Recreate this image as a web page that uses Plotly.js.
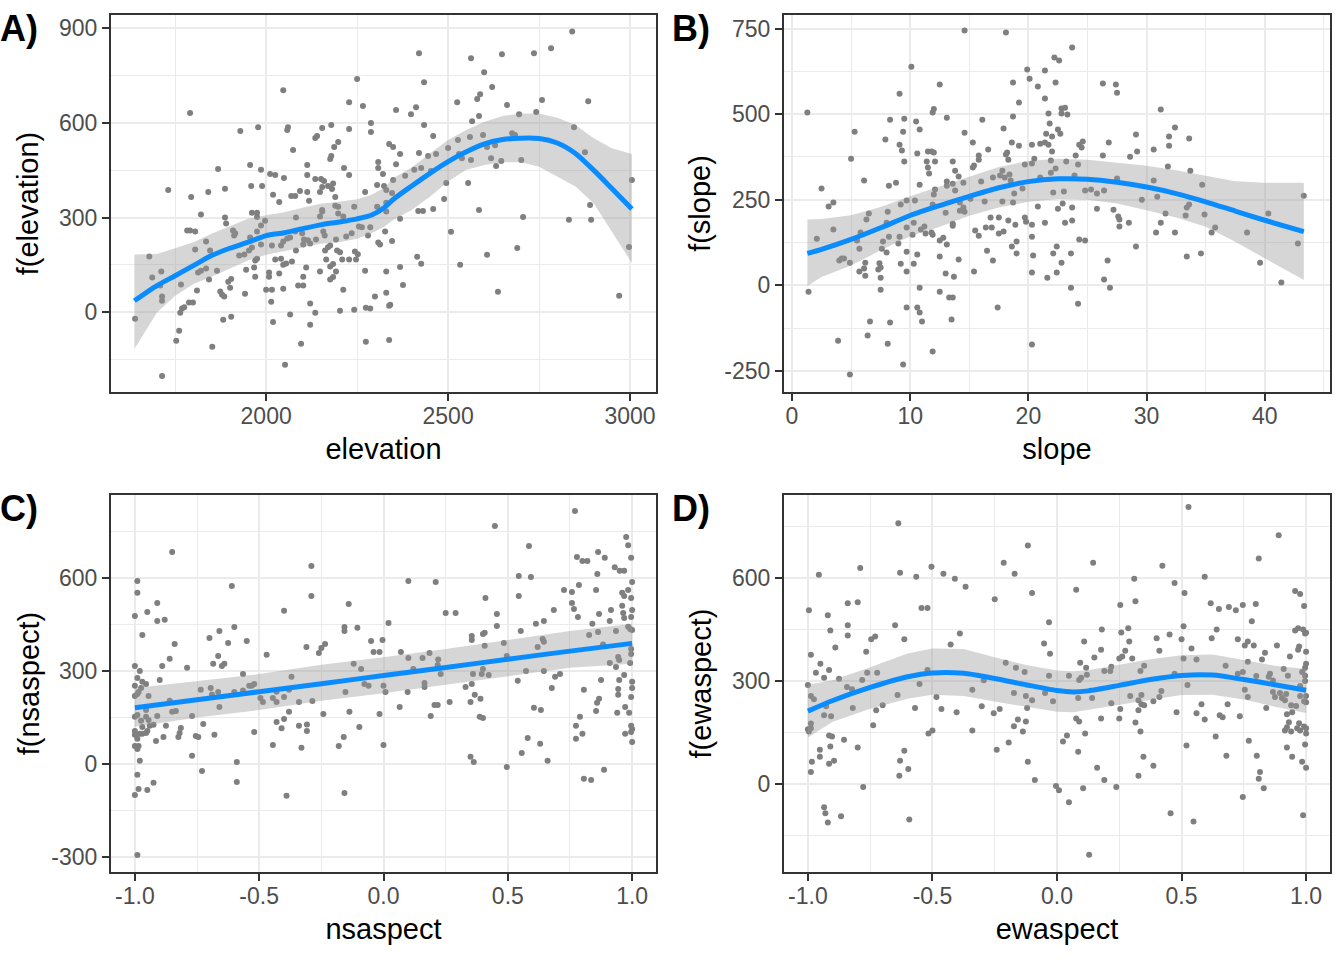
<!DOCTYPE html>
<html><head><meta charset="utf-8">
<script src="https://cdn.plot.ly/plotly-3.0.1.min.js"></script>
<style>html,body{margin:0;padding:0;background:#fff}#p{width:1344px;height:960px}</style>
</head><body><div id="p"></div>
<script>
const elevationPoints=[[1731,387],[1791,631],[1794,365],[1841,381],[1868,454],[1887,391],[1929,574],[1956,466],[1959,400],[1978,586],[1986,451],[1989,400],[2011,438],[2019,372],[2025,435],[2036,349],[2047,703],[2049,425],[2058,577],[2060,586],[2069,368],[2080,368],[2074,514],[2093,384],[2113,466],[2113,435],[2113,381],[2118,353],[2135,552],[2140,558],[2135,422],[2148,381],[2151,422],[2154,583],[2154,397],[2159,416],[2170,400],[2179,593],[2176,485],[2179,495],[2181,390],[2184,408],[2187,523],[2190,365],[2198,539],[2214,457],[2228,665],[2228,580],[2228,435],[2250,738],[2266,653],[2272,381],[2288,599],[2288,571],[2305,403],[2308,476],[2308,457],[2321,438],[2324,400],[2330,387],[2338,533],[2190,337],[2198,334],[2242,334],[2305,334],[2154,324],[2330,347],
[1640,-20],[1679,177],[1687,110],[1712,129],[1709,85],[1714,50],[1714,37],[1714,-201],[1753,-90],[1761,-58],[1764,-1],[1769,12],[1775,16],[1766,88],[1783,259],[1791,259],[1805,256],[1805,199],[1788,31],[1799,31],[1810,69],[1813,126],[1821,132],[1835,139],[1821,310],[1835,224],[1846,196],[1843,104],[1852,-109],[1865,132],[1874,66],[1879,56],[1885,50],[1882,-23],[1887,300],[1890,281],[1896,97],[1904,106],[1901,78],[1904,-14],[1909,259],[1912,243],[1915,250],[1926,180],[1940,183],[1942,59],[1945,135],[1956,237],[1953,196],[1961,205],[1961,315],[1975,315],[1975,302],[1975,256],[1967,142],[1970,113],[1970,164],[1975,170],[1986,275],[1986,215],[1997,290],[2000,72],[2008,126],[2008,113],[2016,212],[2016,72],[2014,34],[2019,-30],[2025,167],[2036,123],[2041,170],[2041,212],[2047,224],[2047,151],[2047,75],[2052,-166],[2055,155],[2058,234],[2066,-7],[2066,237],[2071,161],[2080,256],[2082,196],[2082,300],[2088,85],[2096,-99],[2102,85],[2102,113],[2099,250],[2102,215],[2110,142],[2104,231],[2115,228],[2121,28],[2121,-39],[2121,218],[2135,-1],[2137,231],[2148,129],[2148,303],[2154,319],[2157,256],[2161,243],[2165,167],[2162,196],[2170,206],[2176,212],[2176,104],[2184,112],[2176,145],[2184,153],[2192,231],[2192,129],[2195,196],[2203,190],[2198,313],[2212,72],[2209,167],[2203,5],[2212,303],[2220,240],[2228,167],[2235,250],[2242,8],[2244,193],[2247,167],[2252,184],[2255,272],[2263,269],[2274,-93],[2272,132],[2274,15],[2286,12],[2280,243],[2286,269],[2299,50],[2308,221],[2313,215],[2327,256],[2330,129],[2330,62],[2338,21],[2338,-87],[2330,319],
[2420,820],[2434,728],[2357,640],[2412,649],[2398,627],[2434,593],[2459,558],[2349,523],[2368,501],[2357,469],[2420,504],[2445,495],[2467,501],[2500,520],[2527,545],[2560,555],[2596,561],[2566,605],[2585,621],[2525,665],[2580,675],[2588,690],[2621,713],[2599,760],[2563,804],[2648,817],[2736,820],[2783,836],[2841,889],[2758,672],[2885,668],[2662,656],[2695,627],[2742,634],[2846,586],[2676,567],[2684,561],[2629,529],[2607,523],[2876,507],[2618,488],[2646,479],[2701,482],[2632,463],[2530,501],[2538,488],[2563,482],[2349,419],[2382,432],[2407,451],[2426,457],[2453,447],[2495,409],[2555,409],[2346,378],[2489,359],[2459,327],[2418,321],[2431,321],[2368,296],[2585,324],[2706,302],[2832,293],[2893,293],[2890,340],[3005,419],[2997,207],[2508,255],[2346,226],[2690,204],[2607,182],[2415,176],[2426,154],[2533,151],[2368,144],[2376,87],[2637,65],[2341,24],[2970,53]];
const elevationGrid=[1638,1700,1750,1800,1850,1900,1950,2000,2050,2100,2150,2200,2250,2290,2325,2350,2400,2450,2500,2550,2600,2650,2700,2750,2800,2850,2900,2950,3005];
const elevationFit=[37,85,116,148,180,203,222,243,252,265,277,286,296,308,332,358,400,440,477,508,533,547,551,550,536,503,450,392,327];
const elevationUpper=[183,185,203,222,249,272,296,307,317,331,344,350,358,372,395,425,458,503,545,577,603,621,629,629,616,593,551,519,501];
const elevationLower=[-116,0,53,90,113,138,164,182,194,206,217,222,233,250,272,293,324,366,414,451,466,475,475,461,429,398,345,255,156];

const slopePoints=[[14.6,745],[10.1,639],[12.5,587],[9.1,560],[1.3,505],[12.0,515],[11.9,505],[13.1,490],[8.3,484],[9.5,487],[10.5,479],[10.8,455],[5.3,449],[9.4,449],[14.6,446],[7.9,426],[9.1,411],[9.3,394],[10.6,385],[11.5,391],[11.8,391],[12.0,388],[5.0,370],[9.5,362],[11.4,362],[12.1,362],[13.6,362],[11.5,344],[13.8,335],[11.6,327],[14.1,318],[6.1,306],[13.1,303],[13.6,297],[13.1,291],[14.5,300],[8.8,300],[8.2,291],[10.8,294],[2.5,283],[12.1,280],[13.8,277],[12.0,265],[3.5,242],[3.1,230],[9.2,236],[9.7,248],[10.4,248],[11.9,236],[14.2,242],[14.5,227],[14.2,218],[14.6,215],[8.1,215],[6.5,210],[13.0,212],[6.3,192],[8.0,183],[10.3,183],[13.6,180],[13.6,174],[9.7,169],[11.2,172],[10.9,163],[3.5,163],[2.1,136],[5.8,154],[8.2,142],[9.1,142],[10.2,148],[11.3,151],[11.8,154],[11.9,148],[12.8,139],[12.5,131],[5.5,131],[7.7,128],[9.0,122],[13.1,119],[5.7,107],[7.6,107],[8.0,96],[9.7,98],[10.6,90],[12.5,84],[14.1,75],[4.4,78],[4.0,72],[4.2,78],[4.9,66],[6.2,66],[7.4,64],[9.2,63],[10.3,63],[6.1,49],[5.7,40],[7.5,52],[7.3,46],[9.7,40],[13.0,34],[6.2,28],[7.5,22],[13.7,25],[10.8,-7],[1.4,-19],[7.5,-13],[12.5,-19],[13.3,-36],[13.6,-36],[9.7,-65],[10.6,-65],[10.8,-80],[6.6,-106],[8.3,-109],[11.0,-106],[13.5,-100],[6.4,-147],[3.9,-162],[8.1,-171],[11.9,-194],[9.4,-232],[4.9,-261],
[18.1,739],[23.7,695],[22.2,666],[22.6,657],[19.9,631],[21.4,628],[20.1,604],[18.7,593],[22.3,593],[20.8,581],[26.3,590],[27.4,587],[27.5,563],[21.4,546],[19.2,534],[22.8,517],[23.1,519],[21.7,502],[22.8,502],[23.3,499],[18.7,493],[16.1,484],[21.8,473],[17.9,458],[22.5,455],[22.7,443],[21.5,443],[22.0,435],[29.1,441],[15.3,417],[18.6,417],[19.2,408],[20.3,411],[21.0,414],[21.4,417],[21.7,411],[24.6,420],[24.3,411],[24.5,403],[26.8,417],[16.6,397],[18.2,388],[18.1,382],[22.0,391],[29.2,391],[30.6,397],[15.8,379],[15.8,367],[18.3,367],[24.0,379],[26.3,379],[28.6,376],[20.5,370],[21.9,365],[23.2,362],[20.3,356],[19.7,353],[24.2,353],[15.4,350],[15.3,344],[22.3,341],[17.8,335],[21.9,329],[18.4,324],[17.6,321],[17.0,315],[18.0,315],[23.9,321],[21.0,315],[27.5,312],[18.5,306],[16.0,303],[30.6,306],[19.5,283],[22.1,271],[23.0,274],[24.8,277],[25.3,280],[26.4,277],[25.8,268],[18.8,268],[16.3,245],[17.8,245],[18.7,242],[29.6,250],[22.9,239],[20.8,230],[22.5,224],[23.7,227],[25.8,224],[27.2,221],[16.8,198],[17.5,198],[19.7,198],[27.6,201],[27.7,192],[18.3,189],[19.8,186],[21.4,183],[23.1,183],[23.7,189],[28.5,183],[18.9,177],[20.3,177],[27.7,172],[16.4,169],[16.9,169],[15.5,160],[15.8,145],[17.5,151],[17.9,157],[20.3,142],[30.8,154],[24.3,134],[24.8,131],[19.0,128],[18.6,113],[22.4,113],[29.1,113],[16.5,101],[19.0,93],[20.4,87],[22.1,93],[23.6,93],[17.0,72],[22.8,66],[26.7,72],[15.4,40],[20.3,37],[22.4,37],[21.6,22],[26.4,17],[23.6,-7],[26.9,-7],[24.2,-54],[17.4,-65],[20.3,-173],[15.1,253],
[31.2,514],[32.4,461],[31.9,435],[33.6,429],[31.9,408],[31.8,347],[33.7,335],[34.7,294],[30.9,259],[43.3,262],[33.6,236],[33.4,227],[31.6,210],[33.3,204],[34.9,207],[40.3,210],[31.2,183],[32.4,154],[35.5,154],[35.8,169],[38.5,154],[42.8,122],[34.6,93],[33.4,84],[39.6,66],[41.4,8]];
const slopeGrid=[1.3,2.5,5,7.5,10,12.5,15,17.5,20,22.5,25,27.5,30,32.5,35,37.5,40,43.3];
const slopeFit=[93,105,134,168,204,233,260,285,303,311,310,301,287,268,244,217,190,157];
const slopeUpper=[192,194,205,229,260,289,317,346,363,370,367,359,349,336,320,304,300,300];
const slopeLower=[-2,24,58,102,143,171,203,227,244,252,250,239,219,198,171,127,78,15];

const nsaspectPoints=[[-0.85,684],[-0.99,590],[-0.61,574],[-0.99,552],[-0.91,519],[-0.95,490],[-0.40,494],[-1.0,477],[-0.91,461],[-0.88,465],[-0.60,442],[-0.66,429],[-0.97,416],[-0.70,406],[-0.625,390],[-0.55,397],[-0.84,387],[-0.665,348],[-0.47,352],[-0.86,339],[-0.685,323],[-0.64,323],[-0.65,316],[-1.0,316],[-0.89,316],[-0.79,310],[-0.98,300],[-0.565,290],[-0.37,281],[-0.99,277],[-0.90,271],[-0.97,265],[-0.955,258],[-1.0,252],[-0.975,245],[-0.985,232],[-0.99,226],[-1.0,219],[-0.945,219],[-0.735,239],[-0.695,245],[-0.665,232],[-0.69,224],[-0.60,232],[-0.565,237],[-0.54,252],[-0.52,258],[-0.53,252],[-0.43,233],[-0.38,239],[-0.86,204],[-0.495,213],[-0.485,200],[-0.445,213],[-0.43,200],[-0.40,216],[-0.34,200],[-0.66,184],[-0.955,174],[-0.85,168],[-0.835,171],[-0.38,168],[-1.0,152],[-0.99,158],[-0.91,155],[-0.77,155],[-0.955,152],[-0.945,142],[-0.975,139],[-0.40,145],[-0.43,135],[-0.925,126],[-0.94,123],[-0.875,123],[-0.725,129],[-0.97,119],[-0.815,116],[-0.41,115],[-0.34,123],[-0.52,103],[-1.0,106],[-0.95,106],[-0.955,100],[-0.82,100],[-1.0,94],[-0.98,97],[-0.97,97],[-0.68,94],[-0.885,87],[-0.825,87],[-0.755,90],[-0.745,87],[-0.99,81],[-0.915,74],[-0.445,61],[-1.0,58],[-0.985,58],[-0.99,48],[-0.77,26],[-0.98,10],[-0.59,6],[-0.73,-23],[-0.99,-35],[-0.925,-61],[-0.59,-58],[-0.985,-81],[-0.95,-84],[-1.0,-100],[-0.39,-103],[-0.99,-294],
[-0.29,639],[0.10,590],[0.21,587],[-0.29,542],[-0.14,516],[0.25,487],[0.29,487],[0.02,455],[-0.157,442],[-0.157,429],[-0.105,439],[0.355,413],[0.355,400],[0.40,419],[-0.05,397],[-0.004,400],[-0.235,387],[-0.31,377],[-0.25,374],[-0.26,358],[-0.04,361],[-0.016,361],[0.07,361],[0.185,358],[0.10,342],[0.157,342],[0.22,337],[-0.12,323],[0.218,319],[-0.09,306],[0.12,306],[0.23,290],[0.36,290],[0.395,290],[0.40,306],[0.165,261],[0.355,258],[-0.077,258],[-0.06,252],[0,252],[0.165,248],[0.33,248],[-0.153,232],[0.008,232],[0.097,232],[0.367,223],[0.39,210],[-0.286,203],[0.266,200],[0.35,200],[0.205,190],[0.218,190],[0.065,184],[-0.242,161],[-0.137,168],[-0.016,161],[0.19,155],[0.387,152],[0.40,148],[-0.308,127],[-0.308,106],[-0.097,119],[-0.16,87],[-0.18,58],[0,61],[-0.33,52],[0.35,23],[0.363,6],[-0.157,-94],
[0.77,816],[0.448,768],[0.976,732],[0.585,703],[0.984,706],[0.863,684],[0.778,668],[0.89,665],[0.80,655],[0.82,655],[0.996,665],[0.93,635],[0.95,623],[0.968,623],[0.86,613],[0.544,606],[0.593,603],[1.0,587],[0.786,577],[0.726,561],[0.855,561],[0.758,555],[0.984,561],[0.96,552],[0.968,542],[0.544,542],[0.41,535],[0.996,535],[0.758,519],[0.96,510],[0.685,497],[0.766,500],[0.915,497],[1.0,497],[0.964,487],[0.456,484],[0.867,484],[0.782,474],[0.968,471],[0.996,474],[0.645,461],[0.91,461],[0.613,452],[0.84,452],[0.456,445],[0.984,443],[0.992,435],[1.0,432],[0.552,429],[0.407,423],[0.863,426],[0.935,429],[0.827,416],[0.64,403],[0.645,394],[0.484,390],[0.407,381],[0.62,377],[0.883,385],[0.996,371],[0.496,348],[0.996,355],[0.944,345],[0.948,335],[0.91,326],[0.992,326],[0.935,313],[0.573,300],[0.645,300],[0.71,290],[0.423,287],[0.69,281],[0.875,271],[0.948,271],[0.968,287],[0.54,268],[1.0,265],[1.0,245],[0.677,245],[0.806,239],[0.944,242],[0.944,223],[0.996,216],[0.867,210],[0.859,197],[0.605,181],[0.633,174],[0.972,184],[0.855,171],[0.94,165],[0.988,165],[0.79,152],[0.996,123],[0.774,123],[1.0,113],[0.996,103],[0.80,97],[0.972,97],[0.774,81],[0.58,84],[1.0,71],[0.63,65],[0.556,35],[0.66,10],[0.496,-10],[0.887,-19],[0.806,-48],[0.835,-52]];
const nsaspectGrid=[-1,-0.75,-0.5,-0.25,0,0.25,0.5,0.75,1];
const nsaspectFit=[181,207,233,259,285,311,338,364,389];
const nsaspectUpper=[245,267,290,320,344,371,401,429,452];
const nsaspectLower=[120,150,174,204,228,256,283,310,323];

const ewaspectPoints=[[-0.637,759],[-0.79,629],[-0.63,615],[-0.956,609],[-0.565,603],[-0.504,632],[-0.456,612],[-0.41,597],[-0.367,574],[-0.80,529],[-0.84,526],[-0.996,506],[-0.544,512],[-0.52,512],[-0.92,491],[-0.84,462],[-0.65,462],[-0.91,447],[-0.39,438],[-0.84,432],[-0.73,429],[-0.746,421],[-0.613,421],[-0.427,406],[-0.89,397],[-0.766,385],[-0.988,376],[-0.95,350],[-0.915,332],[-0.52,332],[-0.968,324],[-0.762,324],[-0.722,324],[-0.935,309],[-0.875,306],[-0.782,303],[-1.0,288],[-0.552,291],[-0.843,282],[-0.823,276],[-0.988,256],[-0.976,247],[-0.64,259],[-0.484,253],[-0.34,274],[-0.927,226],[-0.82,221],[-0.70,229],[-0.57,221],[-0.726,215],[-0.464,218],[-0.403,209],[-0.935,200],[-0.907,197],[-0.738,171],[-0.988,176],[-1.0,159],[-0.988,162],[-0.996,153],[-0.5,156],[-0.516,147],[-0.34,156],[-0.915,141],[-0.903,138],[-0.855,129],[-0.91,109],[-0.80,106],[-0.952,100],[-0.613,97],[-0.952,79],[-0.984,65],[-0.895,68],[-0.915,59],[-0.63,68],[-0.597,44],[-0.988,35],[-0.633,24],[-0.778,-9],[-0.935,-68],[-0.93,-85],[-0.867,-94],[-0.593,-103],[-0.92,-112],
[-0.117,694],[-0.214,644],[0.145,644],[-0.17,612],[0.31,597],[0.077,565],[-0.10,556],[-0.25,538],[0.315,532],[0.254,521],[-0.032,471],[0.18,450],[0.286,453],[0.258,441],[0.40,424],[-0.052,409],[0.109,415],[0.29,415],[-0.028,379],[0.177,391],[0.274,388],[0.262,371],[0.25,365],[0.15,368],[0.302,365],[-0.206,353],[0.093,353],[-0.165,338],[-0.13,326],[0.117,338],[0.218,341],[0.19,329],[0.214,329],[0.35,344],[0.335,329],[-0.032,315],[0.048,315],[0.12,318],[0.097,309],[0.089,303],[-0.294,302],[-0.173,265],[-0.048,265],[-0.125,256],[0.085,250],[0.141,250],[0.294,256],[0.339,259],[-0.10,244],[-0.016,241],[0.327,244],[0.387,241],[0.218,235],[0.339,232],[0.35,229],[-0.302,226],[-0.12,221],[-0.23,218],[0.254,218],[0.327,215],[-0.254,206],[0.177,191],[0.25,191],[-0.157,188],[-0.125,182],[0.077,191],[0.089,182],[0.315,179],[-0.173,168],[-0.137,153],[0.335,153],[0.04,141],[0.113,147],[0.024,124],[-0.194,121],[-0.242,100],[0.085,94],[0.347,79],[-0.117,65],[0.161,47],[0.387,53],[0.327,24],[-0.089,12],[0.19,12],[-0.004,-6],[0.008,-18],[0.105,-12],[0.238,-9],[0.048,-53],[0.129,-206],
[0.528,806],[0.89,724],[0.81,656],[0.423,635],[0.593,603],[0.472,585],[0.512,556],[0.956,562],[0.976,553],[0.617,526],[0.798,524],[0.746,521],[0.992,518],[0.65,509],[0.69,515],[0.718,506],[0.782,474],[0.508,459],[0.641,450],[0.956,447],[0.968,453],[0.988,450],[0.996,438],[1.0,440],[0.452,435],[0.5,421],[0.621,424],[0.726,421],[0.766,415],[0.754,403],[0.79,403],[0.883,403],[0.972,400],[0.968,391],[0.54,394],[0.411,388],[0.835,382],[1.0,385],[0.935,371],[0.823,362],[0.508,365],[0.56,362],[0.766,356],[1.0,350],[0.677,344],[0.91,335],[0.996,338],[0.984,326],[0.746,326],[0.726,321],[0.472,321],[0.855,321],[0.85,312],[0.927,315],[0.996,315],[0.80,314],[0.867,301],[0.996,300],[0.524,288],[0.976,285],[0.419,271],[0.754,274],[0.867,268],[0.895,265],[0.92,262],[0.976,256],[1.0,256],[0.411,253],[0.766,253],[0.875,253],[0.903,250],[0.915,244],[0.992,241],[1.0,238],[0.58,232],[0.685,232],[0.96,227],[0.94,229],[0.84,221],[0.48,209],[0.56,206],[0.944,209],[0.923,203],[0.653,200],[0.665,194],[0.734,197],[0.593,188],[0.931,180],[0.972,177],[0.923,165],[0.915,156],[0.94,153],[0.964,162],[0.976,156],[0.992,167],[1.0,162],[1.0,147],[0.637,138],[0.77,126],[0.52,112],[0.996,115],[0.923,106],[0.68,82],[0.802,82],[0.944,79],[0.984,65],[1.0,47],[0.815,35],[0.81,15],[0.83,-12],[0.746,-38],[0.456,-85],[0.988,-91],[0.548,-109]];
const ewaspectGrid=[-1,-0.9,-0.75,-0.6,-0.5,-0.375,-0.25,-0.125,0,0.065,0.125,0.25,0.375,0.5,0.625,0.75,0.875,1];
const ewaspectFit=[212,243,281,312,323,322,307,289,272,268,271,287,304,316,317,304,289,273];
const ewaspectUpper=[289,302,340,380,394,393,369,346,330,328,331,348,363,375,377,361,344,335];
const ewaspectLower=[135,181,219,248,260,256,240,224,210,209,215,231,245,259,260,246,225,207];

const elevationXTicks=[2000,2500,3000], elevationXLabels=["2000","2500","3000"], elevationXMinor=[1750,2250,2750];
const elevationYTicks=[0,300,600,900], elevationYLabels=["0","300","600","900"], elevationYMinor=[-150,150,450,750];
const slopeXTicks=[0,10,20,30,40], slopeXLabels=["0","10","20","30","40"], slopeXMinor=[5,15,25,35,45];
const slopeYTicks=[-250,0,250,500,750], slopeYLabels=["-250","0","250","500","750"], slopeYMinor=[-125,125,375,625];
const aspectXTicks=[-1,-0.5,0,0.5,1], aspectXLabels=["-1.0","-0.5","0.0","0.5","1.0"], aspectXMinor=[-0.75,-0.25,0.25,0.75];
const nsaspectYTicks=[-300,0,300,600], nsaspectYLabels=["-300","0","300","600"], nsaspectYMinor=[-150,150,450,750];
const ewaspectYTicks=[0,300,600], ewaspectYLabels=["0","300","600"], ewaspectYMinor=[-150,150,450,750];

const W=1344,H=960,FONT='"Liberation Sans", Arial, sans-serif';
const panels=[
 {id:'',pts:elevationPoints,g:elevationGrid,f:elevationFit,u:elevationUpper,l:elevationLower,xt:elevationXTicks,xl:elevationXLabels,xm:elevationXMinor,yt:elevationYTicks,yl:elevationYLabels,ym:elevationYMinor,xr:[1571,3074],yr:[-255,944],box:[110,657,14,393],xn:'elevation',yn:'f(elevation)',yso:12,tag:'A)',tx:-1,ty:28},
 {id:'2',pts:slopePoints,g:slopeGrid,f:slopeFit,u:slopeUpper,l:slopeLower,xt:slopeXTicks,xl:slopeXLabels,xm:slopeXMinor,yt:slopeYTicks,yl:slopeYLabels,ym:slopeYMinor,xr:[-0.76,45.6],yr:[-315,793],box:[783,1331,14,393],xn:'slope',yn:'f(slope)',yso:5,tag:'B)',tx:671,ty:28},
 {id:'3',pts:nsaspectPoints,g:nsaspectGrid,f:nsaspectFit,u:nsaspectUpper,l:nsaspectLower,xt:aspectXTicks,xl:aspectXLabels,xm:aspectXMinor,yt:nsaspectYTicks,yl:nsaspectYLabels,ym:nsaspectYMinor,xr:[-1.1,1.1],yr:[-352,871],box:[110,657,494,873],xn:'nsaspect',yn:'f(nsaspect)',yso:3,tag:'C)',tx:-1,ty:508},
 {id:'4',pts:ewaspectPoints,g:ewaspectGrid,f:ewaspectFit,u:ewaspectUpper,l:ewaspectLower,xt:aspectXTicks,xl:aspectXLabels,xm:aspectXMinor,yt:ewaspectYTicks,yl:ewaspectYLabels,ym:ewaspectYMinor,xr:[-1.1,1.1],yr:[-259,844],box:[783,1331,494,873],xn:'ewaspect',yn:'f(ewaspect)',yso:12,tag:'D)',tx:671,ty:508}
];
const inset=(r,span)=>{const u=(r[1]-r[0])/span;return [r[0]+u,r[1]-u];};
const traces=[],layout={width:W,height:H,margin:{l:0,r:0,t:0,b:0},paper_bgcolor:'#fff',plot_bgcolor:'#fff',showlegend:false,font:{family:FONT},annotations:[]};
panels.forEach(p=>{
 const xa='x'+p.id,ya='y'+p.id;
 traces.push({type:'scatter',mode:'markers',xaxis:xa,yaxis:ya,x:p.pts.map(d=>d[0]),y:p.pts.map(d=>d[1]),marker:{size:6,color:'#7F7F7F'},hoverinfo:'skip'});
 traces.push({type:'scatter',mode:'lines',xaxis:xa,yaxis:ya,x:p.g.concat(p.g.slice().reverse()),y:p.u.concat(p.l.slice().reverse()),fill:'toself',fillcolor:'rgba(153,153,153,0.4)',line:{width:0},hoverinfo:'skip'});
 traces.push({type:'scatter',mode:'lines',xaxis:xa,yaxis:ya,x:p.g,y:p.f,line:{color:'#0A8CFF',width:5,shape:'spline',smoothing:0.7},hoverinfo:'skip'});
 const ax=(tv,tt,mv,rng,dom,title,anchor,standoff,extra)=>Object.assign({range:rng,domain:dom,anchor:anchor,tickmode:'array',tickvals:tv,ticktext:tt,ticks:'outside',ticklen:7,tickwidth:2,tickcolor:'#333333',
   tickfont:{size:23,color:'#4D4D4D',family:FONT},showgrid:true,gridcolor:'#EBEBEB',gridwidth:2,zeroline:false,showline:true,mirror:true,linecolor:'#333333',linewidth:2,
   minor:{tickmode:'array',tickvals:mv,showgrid:true,gridcolor:'#EBEBEB',gridwidth:1,ticks:''},
   title:{text:title,font:{size:29,color:'#000',family:FONT},standoff:standoff},automargin:false,layer:'below traces'},extra||{});
 const [x0,x1,y0,y1]=p.box;
 layout['xaxis'+p.id]=ax(p.xt,p.xl,p.xm,inset(p.xr,x1-x0),[(x0+1)/W,(x1-1)/W],p.xn,ya,11,{ticklabelstandoff:-5});
 layout['yaxis'+p.id]=ax(p.yt,p.yl,p.ym,inset(p.yr,y1-y0),[1-(y1-1)/H,1-(y0+1)/H],p.yn,xa,p.yso);
 layout.annotations.push({xref:'paper',yref:'paper',x:p.tx/W,y:1-p.ty/H,xanchor:'left',yanchor:'middle',text:'<b>'+p.tag+'</b>',showarrow:false,font:{size:36,color:'#000',family:FONT},borderpad:0});
});
Plotly.newPlot('p',traces,layout,{staticPlot:true,displayModeBar:false});
</script></body></html>
